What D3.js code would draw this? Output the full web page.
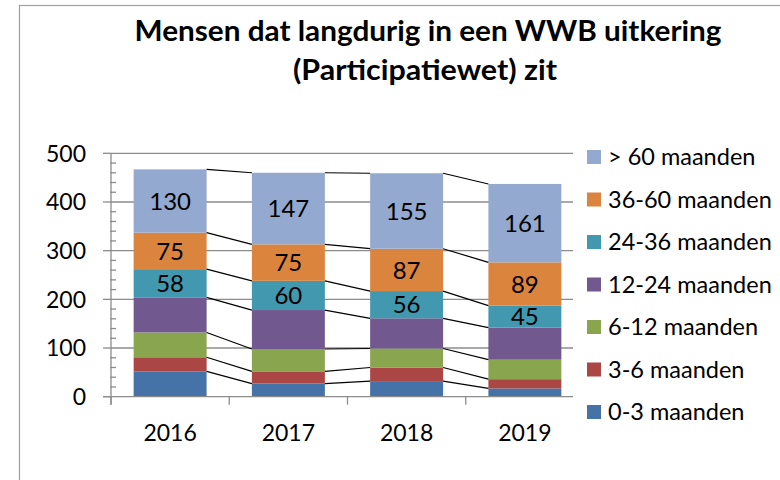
<!DOCTYPE html>
<html>
<head>
<meta charset="utf-8">
<script src="https://cdn.jsdelivr.net/npm/d3@7"></script>
<style>
  html, body { margin: 0; padding: 0; background: #fff; }
  svg { display: block; font-family: Lato, "Open Sans", sans-serif; }
</style>
</head>
<body>
<svg id="chart" width="780" height="480"></svg>
<script>
// Categories (years)
const years = ["2016", "2017", "2018", "2019"];

// Series, bottom of the stack first
const seriesNames = ["0-3 maanden", "3-6 maanden", "6-12 maanden", "12-24 maanden",
                     "24-36 maanden", "36-60 maanden", "> 60 maanden"];
const m0_3   = [52, 27, 32, 17];
const m3_6   = [29, 25, 28, 19];
const m6_12  = [51, 46, 39, 40];
const m12_24 = [72, 80, 62, 66];
const m24_36 = [58, 60, 56, 45];
const m36_60 = [75, 75, 87, 89];
const m60    = [130, 147, 155, 161];
const seriesColors = ["#4572A7", "#AA4643", "#89A54E", "#71588F", "#4198AF", "#DB843D", "#93A9CF"];
// Series whose values are printed inside the bars
const labelled = ["24-36 maanden", "36-60 maanden", "> 60 maanden"];

const yTicks = [0, 100, 200, 300, 400, 500];
const titleLines = ["Mensen dat langdurig in een WWB uitkering", "(Participatiewet) zit"];

const seriesValues = [m0_3, m3_6, m6_12, m12_24, m24_36, m36_60, m60];
const table = years.map((yr, i) => {
  const row = { year: yr };
  seriesNames.forEach((s, k) => row[s] = seriesValues[k][i]);
  return row;
});

const svg = d3.select("#chart");

// Chart frame
svg.append("rect")
  .attr("x", 19.5).attr("y", 5.5).attr("width", 800).attr("height", 500)
  .attr("fill", "#fff").attr("stroke", "#a0a0a0").attr("stroke-width", 1.2);

// Title
const title = svg.append("text")
  .attr("text-anchor", "middle")
  .attr("font-weight", "bold")
  .attr("font-size", 28)
  .attr("fill", "#000");
title.append("tspan").attr("x", 428).attr("y", 41)
  .attr("textLength", 587).attr("lengthAdjust", "spacingAndGlyphs").text(titleLines[0]);
title.append("tspan").attr("x", 425).attr("y", 80)
  .attr("textLength", 264).attr("lengthAdjust", "spacingAndGlyphs").text(titleLines[1]);

// Scales
const plotLeft = 111, plotRight = 573, plotTop = 153.3, plotBottom = 396.7;
const y = d3.scaleLinear().domain([0, 500]).range([plotBottom, plotTop]);
const x = d3.scaleBand().domain(years).range([plotLeft, 584])
  .paddingInner(0.383).paddingOuter(0.1915);

// Gridlines
svg.append("g").selectAll("line")
  .data(yTicks.filter(t => t > 0))
  .join("line")
  .attr("x1", plotLeft).attr("x2", plotRight)
  .attr("y1", d => y(d)).attr("y2", d => y(d))
  .attr("stroke", "#8c8c8c").attr("stroke-width", 1.3);

// Stacked bars
const stack = d3.stack().keys(seriesNames);
const layers = stack(table);

const layerG = svg.append("g").selectAll("g")
  .data(layers)
  .join("g")
  .attr("fill", (d, i) => seriesColors[i]);

layerG.selectAll("rect")
  .data(d => d)
  .join("rect")
  .attr("x", d => x(d.data.year))
  .attr("width", x.bandwidth())
  .attr("y", d => y(d[1]))
  .attr("height", d => y(d[0]) - y(d[1]));

// Series lines joining the top of each segment between neighbouring bars
const seriesLines = svg.append("g").attr("stroke", "#000").attr("stroke-width", 1.2);
layers.forEach(layer => {
  for (let i = 0; i < layer.length - 1; i++) {
    const a = layer[i], b = layer[i + 1];
    seriesLines.append("line")
      .attr("x1", x(a.data.year) + x.bandwidth())
      .attr("y1", y(a[1]))
      .attr("x2", x(b.data.year))
      .attr("y2", y(b[1]));
  }
});

// Value labels
layers.filter(l => labelled.includes(l.key)).forEach(layer => {
  svg.append("g").selectAll("text")
    .data(layer)
    .join("text")
    .attr("x", d => x(d.data.year) + x.bandwidth() / 2)
    .attr("y", d => (y(d[0]) + y(d[1])) / 2)
    .attr("dy", "0.36em")
    .attr("text-anchor", "middle")
    .attr("font-size", 24)
    .attr("fill", "#000")
    .text(d => d.data[layer.key]);
});

// Value axis
const yAxisG = svg.append("g").attr("stroke", "#8c8c8c").attr("stroke-width", 1.3);
yAxisG.append("line")
  .attr("x1", plotLeft).attr("x2", plotLeft)
  .attr("y1", plotTop).attr("y2", plotBottom + 8);
yAxisG.selectAll("line.major")
  .data(yTicks)
  .join("line").attr("class", "major")
  .attr("x1", plotLeft - 8).attr("x2", plotLeft)
  .attr("y1", d => y(d)).attr("y2", d => y(d));
yAxisG.selectAll("line.minor")
  .data(d3.range(0, 501, 20).filter(v => v % 100 !== 0))
  .join("line").attr("class", "minor")
  .attr("x1", plotLeft - 1).attr("x2", plotLeft + 5)
  .attr("y1", d => y(d)).attr("y2", d => y(d));

svg.append("g").selectAll("text")
  .data(yTicks)
  .join("text")
  .attr("x", 86)
  .attr("y", d => y(d))
  .attr("dy", "0.36em")
  .attr("text-anchor", "end")
  .attr("font-size", 23)
  .attr("fill", "#000")
  .text(d => d);

// Category axis
const xAxisG = svg.append("g").attr("stroke", "#8c8c8c").attr("stroke-width", 1.3);
xAxisG.append("line")
  .attr("x1", plotLeft - 8).attr("x2", plotRight)
  .attr("y1", plotBottom).attr("y2", plotBottom);
xAxisG.selectAll("line.tick")
  .data(years)
  .join("line").attr("class", "tick")
  .attr("x1", d => x(d) - x.step() * x.paddingOuter())
  .attr("x2", d => x(d) - x.step() * x.paddingOuter())
  .attr("y1", plotBottom).attr("y2", plotBottom + 8);

svg.append("g").selectAll("text")
  .data(years)
  .join("text")
  .attr("x", d => x(d) + x.bandwidth() / 2)
  .attr("y", 433)
  .attr("dy", "0.36em")
  .attr("text-anchor", "middle")
  .attr("font-size", 23)
  .attr("fill", "#000")
  .text(d => d);

// Legend, top entry is the top of the stack
const legendItems = seriesNames.map((s, i) => ({ name: s, color: seriesColors[i] })).reverse();
const legend = svg.append("g").selectAll("g")
  .data(legendItems)
  .join("g")
  .attr("transform", (d, i) => `translate(587, ${157 + i * 42.5})`);
legend.append("rect")
  .attr("x", 0).attr("y", -7).attr("width", 14).attr("height", 14)
  .attr("fill", d => d.color);
legend.append("text")
  .attr("x", 21).attr("y", 0).attr("dy", "0.36em")
  .attr("font-size", 23.5)
  .attr("fill", "#000")
  .text(d => d.name);
</script>
</body>
</html>
